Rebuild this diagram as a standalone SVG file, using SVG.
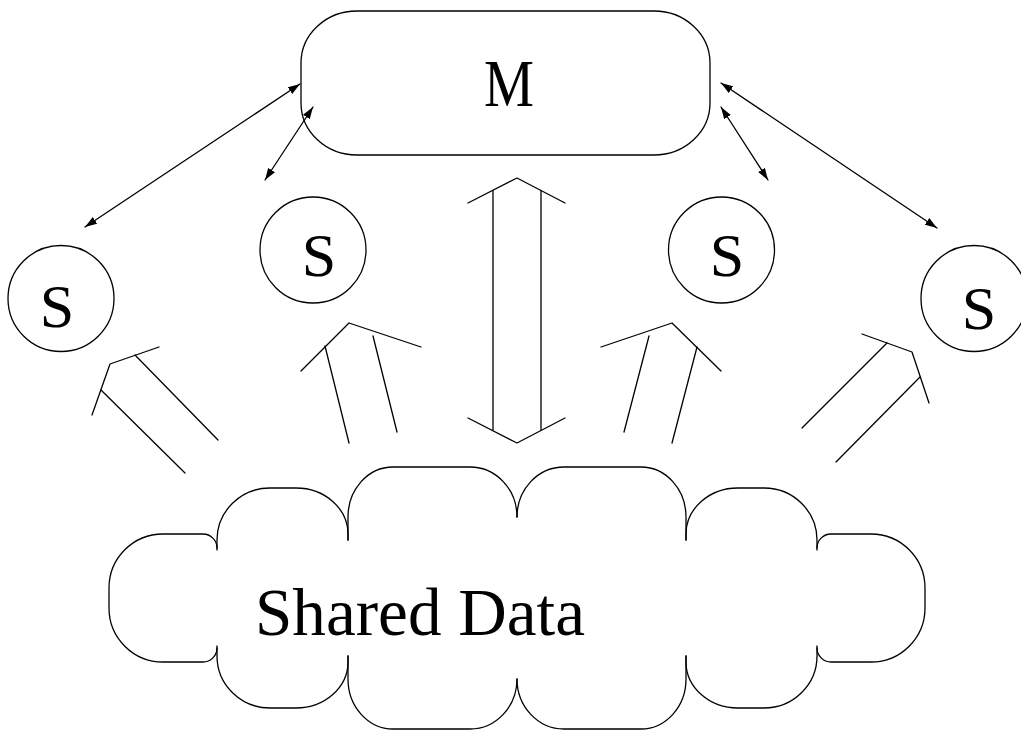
<svg xmlns="http://www.w3.org/2000/svg" width="1021" height="730" viewBox="0 0 1021 730">
  <style>
    .ln { fill: none; stroke: #000; stroke-width: 1.3; stroke-linejoin: round; stroke-linecap: round; }
    .lbl { font-family: "Liberation Serif", "DejaVu Serif", serif; fill: #000; text-anchor: middle; }
  </style>
  <defs>
    <marker id="head" viewBox="0 0 12 8" refX="12" refY="4" markerWidth="12" markerHeight="8" markerUnits="userSpaceOnUse" orient="auto-start-reverse">
      <path d="M0,0 L12,4 L0,8 z" fill="#000"/>
    </marker>
  </defs>
  <rect width="1021" height="730" fill="#fff"/>

  <!-- master -->
  <g id="master">
    <rect class="ln" x="301" y="11" width="409" height="144" rx="56" ry="52"/>
    <text class="lbl" x="509" y="106" font-size="67" textLength="50" lengthAdjust="spacingAndGlyphs">M</text>
  </g>

  <!-- slaves -->
  <g id="slave1">
    <circle class="ln" cx="61" cy="298.5" r="53"/>
    <text class="lbl" x="57" y="327" font-size="62">S</text>
  </g>
  <g id="slave2">
    <circle class="ln" cx="313" cy="250" r="53"/>
    <text class="lbl" x="319" y="276" font-size="62">S</text>
  </g>
  <g id="slave3">
    <circle class="ln" cx="721.5" cy="250" r="53"/>
    <text class="lbl" x="727" y="276" font-size="62">S</text>
  </g>
  <g id="slave4">
    <circle class="ln" cx="974" cy="298.5" r="53"/>
    <text class="lbl" x="979" y="329" font-size="62">S</text>
  </g>

  <!-- shared data cloud -->
  <g id="shared-data">
    <path class="ln" d="M217,548 A14,14 0 0 0 203,534 H163 A54,54 0 0 0 109,588 V608 A54,54 0 0 0 163,662 H203 A14,14 0 0 0 217,648"/>
    <path class="ln" d="M217,550 V540 A53,52 0 0 1 270,488 H296 A52,46 0 0 1 348,534 V540"/>
    <path class="ln" d="M348,540 V517 A45,50 0 0 1 393,467 H470 A47,50 0 0 1 517,517"/>
    <path class="ln" d="M517,517 A47,50 0 0 1 564,467 H641 A45,50 0 0 1 686,517 V540"/>
    <path class="ln" d="M686,540 V534 A52,46 0 0 1 738,488 H764 A53,52 0 0 1 817,540 V550"/>
    <path class="ln" d="M817,548 A14,14 0 0 1 831,534 H871 A54,54 0 0 1 925,588 V608 A54,54 0 0 1 871,662 H831 A14,14 0 0 1 817,648"/>
    <path class="ln" d="M217,646 V656 A53,52 0 0 0 270,708 H296 A52,46 0 0 0 348,662 V656"/>
    <path class="ln" d="M348,656 V679 A45,50 0 0 0 393,729 H470 A47,50 0 0 0 517,679"/>
    <path class="ln" d="M517,679 A47,50 0 0 0 564,729 H641 A45,50 0 0 0 686,679 V656"/>
    <path class="ln" d="M686,656 V662 A52,46 0 0 0 738,708 H764 A53,52 0 0 0 817,656 V646"/>
    <text class="lbl" x="420" y="635" font-size="68" textLength="330" lengthAdjust="spacingAndGlyphs">Shared Data</text>
  </g>

  <!-- connectors -->
  <g id="connectors">
    <!-- master <-> slave control links -->
    <line class="ln" x1="85" y1="227" x2="300" y2="84" marker-start="url(#head)" marker-end="url(#head)"/>
    <line class="ln" x1="265" y1="180" x2="313" y2="107" marker-start="url(#head)" marker-end="url(#head)"/>
    <line class="ln" x1="721" y1="83" x2="937" y2="228" marker-start="url(#head)" marker-end="url(#head)"/>
    <line class="ln" x1="721" y1="107" x2="768" y2="180" marker-start="url(#head)" marker-end="url(#head)"/>

    <!-- master <-> shared data, hollow double arrow -->
    <polyline class="ln" points="468,203 517,178 565,203"/>
    <line class="ln" x1="493" y1="191" x2="493" y2="430"/>
    <line class="ln" x1="541" y1="191" x2="541" y2="430"/>
    <polyline class="ln" points="468,418 517,443 565,418"/>

    <!-- shared data -> slave 1 -->
    <polyline class="ln" points="92,415 110,364 159,347"/>
    <line class="ln" x1="101" y1="390" x2="185" y2="473"/>
    <line class="ln" x1="135" y1="355" x2="218" y2="440"/>

    <!-- shared data -> slave 2 -->
    <polyline class="ln" points="301,371 349,323 421,347"/>
    <line class="ln" x1="325" y1="346" x2="349" y2="443"/>
    <line class="ln" x1="373" y1="336" x2="397" y2="432"/>

    <!-- shared data -> slave 3 -->
    <polyline class="ln" points="601,347 672,323 721,371"/>
    <line class="ln" x1="649" y1="336" x2="624" y2="432"/>
    <line class="ln" x1="697" y1="347" x2="672" y2="443"/>

    <!-- shared data -> slave 4 -->
    <polyline class="ln" points="862,334 912,352 929,403"/>
    <line class="ln" x1="887" y1="343" x2="802" y2="428"/>
    <line class="ln" x1="920" y1="377" x2="836" y2="462"/>
  </g>
</svg>
